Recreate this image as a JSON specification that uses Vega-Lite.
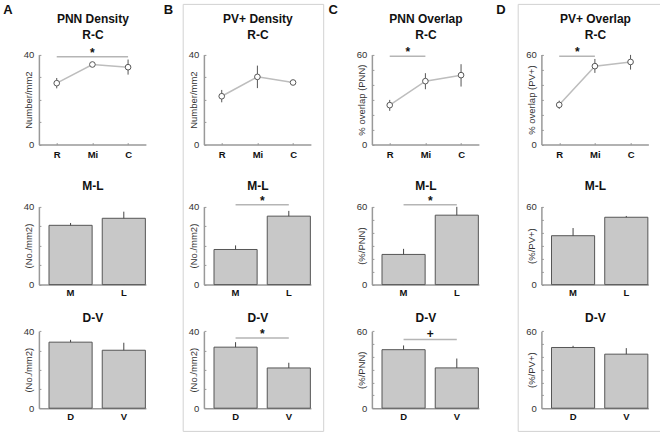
{
  "$schema": "https://vega.github.io/schema/vega-lite/v6.json",
  "background": "white",
  "padding": {"left": 2.7, "top": 2.9, "right": 0, "bottom": 0},
  "spacing": 4,
  "config": {
    "font": "Liberation Sans",
    "view": {"stroke": null},
    "title": {"font": "Liberation Sans", "fontSize": 13, "fontWeight": "bold", "color": "#111"},
    "axis": {"domainColor": "#999", "domainWidth": 1.5, "tickColor": "#999", "tickSize": -2, "tickWidth": 1, "labelFont": "Liberation Sans", "labelFontSize": 9.5, "labelColor": "#333", "titleFont": "Liberation Sans", "titleFontSize": 9.5, "titleFontWeight": "normal", "titleColor": "#333", "grid": false},
    "axisX": {"labelFontWeight": "bold", "labelColor": "#111", "labelAngle": 0},
    "axisY": {"labelPadding": 7, "titleX": -5}
  },
  "hconcat": [
    {
      "width": 140.5, "height": 427,
      "title": {"text": "A", "anchor": "start", "frame": "bounds", "dx": -14.4, "offset": -12.7},
      "resolve": {"scale": {"x": "independent", "y": "independent"}, "axis": {"x": "independent", "y": "independent"}},
      "layer": [
        {
          "data": {"values": [
            {"region": "R", "mean": 27.3, "lo": 25.0, "hi": 29.6},
            {"region": "Mi", "mean": 35.6, "lo": 34.8, "hi": 36.4},
            {"region": "C", "mean": 34.4, "lo": 31.1, "hi": 37.8}
          ]},
          "resolve": {"axis": {"x": "independent"}},
          "layer": [
            {"mark": {"type": "line", "color": "#bdbdbd", "strokeWidth": 1.5},
             "encoding": {
               "x": {"field": "region", "type": "nominal", "scale": {"type": "point", "padding": 0.5, "domain": ["R", "Mi", "C"], "range": [21.2, 128.2]}, "axis": {"orient": "bottom", "offset": -286.3, "labelPadding": 7.2, "title": null}},
               "y": {"field": "mean", "type": "quantitative", "scale": {"domain": [0, 40], "range": [140.7, 50.7]}, "axis": {"orient": "left", "offset": -21.2, "values": [0, 10, 20, 30, 40], "labelExpr": "datum.value == 0 || datum.value == 40 ? datum.label : ''", "title": "Number/mm2"}}}},
            {"mark": {"type": "rule", "color": "#555", "strokeWidth": 1},
             "encoding": {
               "x": {"field": "region", "type": "nominal", "axis": {"orient": "top", "offset": -50.7, "title": ["PNN Density", "R-C"], "titleY": -36.2, "titleBaseline": "middle", "titleLineHeight": 16.3, "titleFontSize": 12, "titleFontWeight": "bold", "titleColor": "#111", "domain": false, "ticks": false, "labels": false}},
               "y": {"field": "lo", "type": "quantitative"}, "y2": {"field": "hi"}}},
            {"mark": {"type": "point", "shape": "circle", "filled": true, "fill": "white", "stroke": "#555", "strokeWidth": 1, "size": 32, "opacity": 1},
             "encoding": {"x": {"field": "region", "type": "nominal", "axis": null}, "y": {"field": "mean", "type": "quantitative"}}},
            {"data": {"values": [{"from": "R", "to": "C", "at": "Mi", "y": 39, "sig": "*"}]},
             "layer": [
               {"mark": {"type": "rule", "color": "#b5b5b5", "strokeWidth": 1.5},
                "encoding": {"x": {"field": "from", "type": "nominal", "axis": null}, "x2": {"field": "to"}, "y": {"field": "y", "type": "quantitative"}}},
               {"mark": {"type": "text", "baseline": "alphabetic", "fontSize": 12, "fontWeight": "bold", "color": "#111"},
                "encoding": {"x": {"field": "at", "type": "nominal", "axis": null}, "y": {"field": "y", "type": "quantitative"}, "text": {"field": "sig"}}}
             ]}
          ]
        },
        {
          "data": {"values": [
            {"region": "M", "mean": 30.4, "hi": 31.6},
            {"region": "L", "mean": 34.0, "hi": 37.4}
          ]},
          "resolve": {"axis": {"x": "independent"}},
          "layer": [
            {"mark": {"type": "bar", "fill": "#c8c8c8", "stroke": "#555", "strokeWidth": 1},
             "encoding": {
               "x": {"field": "region", "type": "nominal", "scale": {"type": "band", "paddingInner": 0.19, "paddingOuter": 0.1, "align": 0.95, "domain": ["M", "L"], "range": [21.2, 128.2]}, "axis": {"orient": "bottom", "offset": -146.3, "labelPadding": 4.5, "title": null}},
               "y": {"field": "mean", "type": "quantitative", "scale": {"domain": [0, 40], "range": [280.7, 202.7]}, "axis": {"orient": "left", "offset": -21.2, "values": [0, 10, 20, 30, 40], "labelExpr": "datum.value == 0 || datum.value == 40 ? datum.label : ''", "title": "(No./mm2)"}}}},
            {"mark": {"type": "rule", "color": "#444", "strokeWidth": 1},
             "encoding": {
               "x": {"field": "region", "type": "nominal", "axis": {"orient": "top", "offset": -202.7, "title": "M-L", "titleY": -21, "titleBaseline": "middle", "titleFontSize": 12, "titleFontWeight": "bold", "titleColor": "#111", "domain": false, "ticks": false, "labels": false}},
               "y": {"field": "mean", "type": "quantitative"}, "y2": {"field": "hi"}}}
          ]
        },
        {
          "data": {"values": [
            {"region": "D", "mean": 34.3, "hi": 35.5},
            {"region": "V", "mean": 30.1, "hi": 34.0}
          ]},
          "resolve": {"axis": {"x": "independent"}},
          "layer": [
            {"mark": {"type": "bar", "fill": "#c8c8c8", "stroke": "#555", "strokeWidth": 1},
             "encoding": {
               "x": {"field": "region", "type": "nominal", "scale": {"type": "band", "paddingInner": 0.19, "paddingOuter": 0.1, "align": 0.95, "domain": ["D", "V"], "range": [21.2, 128.2]}, "axis": {"orient": "bottom", "offset": -22.7, "labelPadding": 5.2, "title": null}},
               "y": {"field": "mean", "type": "quantitative", "scale": {"domain": [0, 40], "range": [404.3, 327.3]}, "axis": {"orient": "left", "offset": -21.2, "values": [0, 10, 20, 30, 40], "labelExpr": "datum.value == 0 || datum.value == 40 ? datum.label : ''", "title": "(No./mm2)"}}}},
            {"mark": {"type": "rule", "color": "#444", "strokeWidth": 1},
             "encoding": {
               "x": {"field": "region", "type": "nominal", "axis": {"orient": "top", "offset": -327.3, "title": "D-V", "titleY": -14, "titleBaseline": "middle", "titleFontSize": 12, "titleFontWeight": "bold", "titleColor": "#111", "domain": false, "ticks": false, "labels": false}},
               "y": {"field": "mean", "type": "quantitative"}, "y2": {"field": "hi"}}}
          ]
        }
      ]
    },
    {
      "width": 140.5, "height": 427,
      "view": {"stroke": "#d2d2d2", "strokeWidth": 1},
      "title": {"text": "B", "anchor": "start", "frame": "bounds", "dx": -18.9, "offset": -12.7},
      "resolve": {"scale": {"x": "independent", "y": "independent"}, "axis": {"x": "independent", "y": "independent"}},
      "layer": [
        {
          "data": {"values": [
            {"region": "R", "mean": 21.5, "lo": 18.8, "hi": 24.3},
            {"region": "Mi", "mean": 30.1, "lo": 25.1, "hi": 35.1},
            {"region": "C", "mean": 27.6, "lo": 27.1, "hi": 28.1}
          ]},
          "resolve": {"axis": {"x": "independent"}},
          "layer": [
            {"mark": {"type": "line", "color": "#bdbdbd", "strokeWidth": 1.5},
             "encoding": {
               "x": {"field": "region", "type": "nominal", "scale": {"type": "point", "padding": 0.5, "domain": ["R", "Mi", "C"], "range": [21.2, 128.2]}, "axis": {"orient": "bottom", "offset": -286.3, "labelPadding": 7.2, "title": null}},
               "y": {"field": "mean", "type": "quantitative", "scale": {"domain": [0, 40], "range": [140.7, 50.7]}, "axis": {"orient": "left", "offset": -21.2, "values": [0, 10, 20, 30, 40], "labelExpr": "datum.value == 0 || datum.value == 40 ? datum.label : ''", "title": "Number/mm2"}}}},
            {"mark": {"type": "rule", "color": "#555", "strokeWidth": 1},
             "encoding": {
               "x": {"field": "region", "type": "nominal", "axis": {"orient": "top", "offset": -50.7, "title": ["PV+ Density", "R-C"], "titleY": -36.2, "titleBaseline": "middle", "titleLineHeight": 16.3, "titleFontSize": 12, "titleFontWeight": "bold", "titleColor": "#111", "domain": false, "ticks": false, "labels": false}},
               "y": {"field": "lo", "type": "quantitative"}, "y2": {"field": "hi"}}},
            {"mark": {"type": "point", "shape": "circle", "filled": true, "fill": "white", "stroke": "#555", "strokeWidth": 1, "size": 32, "opacity": 1},
             "encoding": {"x": {"field": "region", "type": "nominal", "axis": null}, "y": {"field": "mean", "type": "quantitative"}}}
          ]
        },
        {
          "data": {"values": [
            {"region": "M", "mean": 18.0, "hi": 20.1},
            {"region": "L", "mean": 35.1, "hi": 37.8}
          ]},
          "resolve": {"axis": {"x": "independent"}},
          "layer": [
            {"mark": {"type": "bar", "fill": "#c8c8c8", "stroke": "#555", "strokeWidth": 1},
             "encoding": {
               "x": {"field": "region", "type": "nominal", "scale": {"type": "band", "paddingInner": 0.19, "paddingOuter": 0.1, "align": 0.95, "domain": ["M", "L"], "range": [21.2, 128.2]}, "axis": {"orient": "bottom", "offset": -146.3, "labelPadding": 4.5, "title": null}},
               "y": {"field": "mean", "type": "quantitative", "scale": {"domain": [0, 40], "range": [280.7, 202.7]}, "axis": {"orient": "left", "offset": -21.2, "values": [0, 10, 20, 30, 40], "labelExpr": "datum.value == 0 || datum.value == 40 ? datum.label : ''", "title": "(No./mm2)"}}}},
            {"mark": {"type": "rule", "color": "#444", "strokeWidth": 1},
             "encoding": {
               "x": {"field": "region", "type": "nominal", "axis": {"orient": "top", "offset": -202.7, "title": "M-L", "titleY": -21, "titleBaseline": "middle", "titleFontSize": 12, "titleFontWeight": "bold", "titleColor": "#111", "domain": false, "ticks": false, "labels": false}},
               "y": {"field": "mean", "type": "quantitative"}, "y2": {"field": "hi"}}},
            {"data": {"values": [{"from": "M", "to": "L", "y": 41, "sig": "*"}]},
             "layer": [
               {"mark": {"type": "rule", "color": "#b5b5b5", "strokeWidth": 1.5},
                "encoding": {"x": {"field": "from", "type": "nominal", "axis": null}, "x2": {"field": "to"}, "y": {"field": "y", "type": "quantitative"}}},
               {"mark": {"type": "text", "baseline": "alphabetic", "fontSize": 12, "fontWeight": "bold", "color": "#111", "dx": 26.75},
                "encoding": {"x": {"field": "from", "type": "nominal", "axis": null}, "y": {"field": "y", "type": "quantitative"}, "text": {"field": "sig"}}}
             ]}
          ]
        },
        {
          "data": {"values": [
            {"region": "D", "mean": 31.7, "hi": 34.3},
            {"region": "V", "mean": 20.9, "hi": 23.6}
          ]},
          "resolve": {"axis": {"x": "independent"}},
          "layer": [
            {"mark": {"type": "bar", "fill": "#c8c8c8", "stroke": "#555", "strokeWidth": 1},
             "encoding": {
               "x": {"field": "region", "type": "nominal", "scale": {"type": "band", "paddingInner": 0.19, "paddingOuter": 0.1, "align": 0.95, "domain": ["D", "V"], "range": [21.2, 128.2]}, "axis": {"orient": "bottom", "offset": -22.7, "labelPadding": 5.2, "title": null}},
               "y": {"field": "mean", "type": "quantitative", "scale": {"domain": [0, 40], "range": [404.3, 327.3]}, "axis": {"orient": "left", "offset": -21.2, "values": [0, 10, 20, 30, 40], "labelExpr": "datum.value == 0 || datum.value == 40 ? datum.label : ''", "title": "(No./mm2)"}}}},
            {"mark": {"type": "rule", "color": "#444", "strokeWidth": 1},
             "encoding": {
               "x": {"field": "region", "type": "nominal", "axis": {"orient": "top", "offset": -327.3, "title": "D-V", "titleY": -14, "titleBaseline": "middle", "titleFontSize": 12, "titleFontWeight": "bold", "titleColor": "#111", "domain": false, "ticks": false, "labels": false}},
               "y": {"field": "mean", "type": "quantitative"}, "y2": {"field": "hi"}}},
            {"data": {"values": [{"from": "D", "to": "V", "y": 36.5, "sig": "*"}]},
             "layer": [
               {"mark": {"type": "rule", "color": "#b5b5b5", "strokeWidth": 1.5},
                "encoding": {"x": {"field": "from", "type": "nominal", "axis": null}, "x2": {"field": "to"}, "y": {"field": "y", "type": "quantitative"}}},
               {"mark": {"type": "text", "baseline": "alphabetic", "fontSize": 12, "fontWeight": "bold", "color": "#111", "dx": 26.75},
                "encoding": {"x": {"field": "from", "type": "nominal", "axis": null}, "y": {"field": "y", "type": "quantitative"}, "text": {"field": "sig"}}}
             ]}
          ]
        }
      ]
    },
    {
      "width": 140.5, "height": 427,
      "title": {"text": "C", "anchor": "start", "frame": "bounds", "dx": -22.1, "offset": -12.7},
      "resolve": {"scale": {"x": "independent", "y": "independent"}, "axis": {"x": "independent", "y": "independent"}},
      "layer": [
        {
          "data": {"values": [
            {"region": "R", "mean": 26.3, "lo": 22.5, "hi": 29.8},
            {"region": "Mi", "mean": 42.3, "lo": 36.9, "hi": 47.6},
            {"region": "C", "mean": 46.3, "lo": 38.7, "hi": 53.6}
          ]},
          "resolve": {"axis": {"x": "independent"}},
          "layer": [
            {"mark": {"type": "line", "color": "#bdbdbd", "strokeWidth": 1.5},
             "encoding": {
               "x": {"field": "region", "type": "nominal", "scale": {"type": "point", "padding": 0.5, "domain": ["R", "Mi", "C"], "range": [21.2, 128.2]}, "axis": {"orient": "bottom", "offset": -286.3, "labelPadding": 7.2, "title": null}},
               "y": {"field": "mean", "type": "quantitative", "scale": {"domain": [0, 60], "range": [140.7, 50.7]}, "axis": {"orient": "left", "offset": -21.2, "values": [0, 10, 20, 30, 40, 50, 60], "labelExpr": "datum.value == 0 || datum.value == 60 ? datum.label : ''", "title": "% overlap (PNN)"}}}},
            {"mark": {"type": "rule", "color": "#555", "strokeWidth": 1},
             "encoding": {
               "x": {"field": "region", "type": "nominal", "axis": {"orient": "top", "offset": -50.7, "title": ["PNN Overlap", "R-C"], "titleY": -36.2, "titleBaseline": "middle", "titleLineHeight": 16.3, "titleFontSize": 12, "titleFontWeight": "bold", "titleColor": "#111", "domain": false, "ticks": false, "labels": false}},
               "y": {"field": "lo", "type": "quantitative"}, "y2": {"field": "hi"}}},
            {"mark": {"type": "point", "shape": "circle", "filled": true, "fill": "white", "stroke": "#555", "strokeWidth": 1, "size": 32, "opacity": 1},
             "encoding": {"x": {"field": "region", "type": "nominal", "axis": null}, "y": {"field": "mean", "type": "quantitative"}}},
            {"data": {"values": [{"from": "R", "to": "Mi", "y": 58.9, "sig": "*"}]},
             "layer": [
               {"mark": {"type": "rule", "color": "#b5b5b5", "strokeWidth": 1.5},
                "encoding": {"x": {"field": "from", "type": "nominal", "axis": null}, "x2": {"field": "to"}, "y": {"field": "y", "type": "quantitative"}}},
               {"mark": {"type": "text", "baseline": "alphabetic", "fontSize": 12, "fontWeight": "bold", "color": "#111", "dx": 18},
                "encoding": {"x": {"field": "from", "type": "nominal", "axis": null}, "y": {"field": "y", "type": "quantitative"}, "text": {"field": "sig"}}}
             ]}
          ]
        },
        {
          "data": {"values": [
            {"region": "M", "mean": 23.2, "hi": 27.5},
            {"region": "L", "mean": 53.4, "hi": 59.8}
          ]},
          "resolve": {"axis": {"x": "independent"}},
          "layer": [
            {"mark": {"type": "bar", "fill": "#c8c8c8", "stroke": "#555", "strokeWidth": 1},
             "encoding": {
               "x": {"field": "region", "type": "nominal", "scale": {"type": "band", "paddingInner": 0.19, "paddingOuter": 0.1, "align": 0.95, "domain": ["M", "L"], "range": [21.2, 128.2]}, "axis": {"orient": "bottom", "offset": -146.3, "labelPadding": 4.5, "title": null}},
               "y": {"field": "mean", "type": "quantitative", "scale": {"domain": [0, 60], "range": [280.7, 202.7]}, "axis": {"orient": "left", "offset": -21.2, "values": [0, 10, 20, 30, 40, 50, 60], "labelExpr": "datum.value == 0 || datum.value == 60 ? datum.label : ''", "title": "(%/PNN)"}}}},
            {"mark": {"type": "rule", "color": "#444", "strokeWidth": 1},
             "encoding": {
               "x": {"field": "region", "type": "nominal", "axis": {"orient": "top", "offset": -202.7, "title": "M-L", "titleY": -21, "titleBaseline": "middle", "titleFontSize": 12, "titleFontWeight": "bold", "titleColor": "#111", "domain": false, "ticks": false, "labels": false}},
               "y": {"field": "mean", "type": "quantitative"}, "y2": {"field": "hi"}}},
            {"data": {"values": [{"from": "M", "to": "L", "y": 61.5, "sig": "*"}]},
             "layer": [
               {"mark": {"type": "rule", "color": "#b5b5b5", "strokeWidth": 1.5},
                "encoding": {"x": {"field": "from", "type": "nominal", "axis": null}, "x2": {"field": "to"}, "y": {"field": "y", "type": "quantitative"}}},
               {"mark": {"type": "text", "baseline": "alphabetic", "fontSize": 12, "fontWeight": "bold", "color": "#111", "dx": 26.75},
                "encoding": {"x": {"field": "from", "type": "nominal", "axis": null}, "y": {"field": "y", "type": "quantitative"}, "text": {"field": "sig"}}}
             ]}
          ]
        },
        {
          "data": {"values": [
            {"region": "D", "mean": 45.6, "hi": 48.9},
            {"region": "V", "mean": 31.4, "hi": 38.7}
          ]},
          "resolve": {"axis": {"x": "independent"}},
          "layer": [
            {"mark": {"type": "bar", "fill": "#c8c8c8", "stroke": "#555", "strokeWidth": 1},
             "encoding": {
               "x": {"field": "region", "type": "nominal", "scale": {"type": "band", "paddingInner": 0.19, "paddingOuter": 0.1, "align": 0.95, "domain": ["D", "V"], "range": [21.2, 128.2]}, "axis": {"orient": "bottom", "offset": -22.7, "labelPadding": 5.2, "title": null}},
               "y": {"field": "mean", "type": "quantitative", "scale": {"domain": [0, 60], "range": [404.3, 327.3]}, "axis": {"orient": "left", "offset": -21.2, "values": [0, 10, 20, 30, 40, 50, 60], "labelExpr": "datum.value == 0 || datum.value == 60 ? datum.label : ''", "title": "(%/PNN)"}}}},
            {"mark": {"type": "rule", "color": "#444", "strokeWidth": 1},
             "encoding": {
               "x": {"field": "region", "type": "nominal", "axis": {"orient": "top", "offset": -327.3, "title": "D-V", "titleY": -14, "titleBaseline": "middle", "titleFontSize": 12, "titleFontWeight": "bold", "titleColor": "#111", "domain": false, "ticks": false, "labels": false}},
               "y": {"field": "mean", "type": "quantitative"}, "y2": {"field": "hi"}}},
            {"data": {"values": [{"from": "D", "to": "V", "y": 53.5, "sig": "+"}]},
             "layer": [
               {"mark": {"type": "rule", "color": "#b5b5b5", "strokeWidth": 1.5},
                "encoding": {"x": {"field": "from", "type": "nominal", "axis": null}, "x2": {"field": "to"}, "y": {"field": "y", "type": "quantitative"}}},
               {"mark": {"type": "text", "baseline": "alphabetic", "fontSize": 12, "fontWeight": "bold", "color": "#111", "dx": 26.75, "dy": -2},
                "encoding": {"x": {"field": "from", "type": "nominal", "axis": null}, "y": {"field": "y", "type": "quantitative"}, "text": {"field": "sig"}}}
             ]}
          ]
        }
      ]
    },
    {
      "width": 143, "height": 427,
      "view": {"stroke": "#d2d2d2", "strokeWidth": 1},
      "title": {"text": "D", "anchor": "start", "frame": "bounds", "dx": -21.4, "offset": -12.7},
      "resolve": {"scale": {"x": "independent", "y": "independent"}, "axis": {"x": "independent", "y": "independent"}},
      "layer": [
        {
          "data": {"values": [
            {"region": "R", "mean": 26.5, "lo": 23.8, "hi": 29.3},
            {"region": "Mi", "mean": 52.3, "lo": 47.8, "hi": 57.1},
            {"region": "C", "mean": 55.1, "lo": 50.0, "hi": 59.8}
          ]},
          "resolve": {"axis": {"x": "independent"}},
          "layer": [
            {"mark": {"type": "line", "color": "#bdbdbd", "strokeWidth": 1.5},
             "encoding": {
               "x": {"field": "region", "type": "nominal", "scale": {"type": "point", "padding": 0.5, "domain": ["R", "Mi", "C"], "range": [23.7, 130.7]}, "axis": {"orient": "bottom", "offset": -286.3, "labelPadding": 7.2, "title": null}},
               "y": {"field": "mean", "type": "quantitative", "scale": {"domain": [0, 60], "range": [140.7, 50.7]}, "axis": {"orient": "left", "offset": -23.7, "values": [0, 10, 20, 30, 40, 50, 60], "labelExpr": "datum.value == 0 || datum.value == 60 ? datum.label : ''", "title": "% overlap (PV+)"}}}},
            {"mark": {"type": "rule", "color": "#555", "strokeWidth": 1},
             "encoding": {
               "x": {"field": "region", "type": "nominal", "axis": {"orient": "top", "offset": -50.7, "title": ["PV+ Overlap", "R-C"], "titleY": -36.2, "titleBaseline": "middle", "titleLineHeight": 16.3, "titleFontSize": 12, "titleFontWeight": "bold", "titleColor": "#111", "domain": false, "ticks": false, "labels": false}},
               "y": {"field": "lo", "type": "quantitative"}, "y2": {"field": "hi"}}},
            {"mark": {"type": "point", "shape": "circle", "filled": true, "fill": "white", "stroke": "#555", "strokeWidth": 1, "size": 32, "opacity": 1},
             "encoding": {"x": {"field": "region", "type": "nominal", "axis": null}, "y": {"field": "mean", "type": "quantitative"}}},
            {"data": {"values": [{"from": "R", "to": "Mi", "y": 58.9, "sig": "*"}]},
             "layer": [
               {"mark": {"type": "rule", "color": "#b5b5b5", "strokeWidth": 1.5},
                "encoding": {"x": {"field": "from", "type": "nominal", "axis": null}, "x2": {"field": "to"}, "y": {"field": "y", "type": "quantitative"}}},
               {"mark": {"type": "text", "baseline": "alphabetic", "fontSize": 12, "fontWeight": "bold", "color": "#111", "dx": 18},
                "encoding": {"x": {"field": "from", "type": "nominal", "axis": null}, "y": {"field": "y", "type": "quantitative"}, "text": {"field": "sig"}}}
             ]}
          ]
        },
        {
          "data": {"values": [
            {"region": "M", "mean": 37.6, "hi": 43.5},
            {"region": "L", "mean": 51.8, "hi": 52.8}
          ]},
          "resolve": {"axis": {"x": "independent"}},
          "layer": [
            {"mark": {"type": "bar", "fill": "#c8c8c8", "stroke": "#555", "strokeWidth": 1},
             "encoding": {
               "x": {"field": "region", "type": "nominal", "scale": {"type": "band", "paddingInner": 0.19, "paddingOuter": 0.1, "align": 0.95, "domain": ["M", "L"], "range": [23.7, 130.7]}, "axis": {"orient": "bottom", "offset": -146.3, "labelPadding": 4.5, "title": null}},
               "y": {"field": "mean", "type": "quantitative", "scale": {"domain": [0, 60], "range": [280.7, 202.7]}, "axis": {"orient": "left", "offset": -23.7, "values": [0, 10, 20, 30, 40, 50, 60], "labelExpr": "datum.value == 0 || datum.value == 60 ? datum.label : ''", "title": "(%/PV+)"}}}},
            {"mark": {"type": "rule", "color": "#444", "strokeWidth": 1},
             "encoding": {
               "x": {"field": "region", "type": "nominal", "axis": {"orient": "top", "offset": -202.7, "title": "M-L", "titleY": -21, "titleBaseline": "middle", "titleFontSize": 12, "titleFontWeight": "bold", "titleColor": "#111", "domain": false, "ticks": false, "labels": false}},
               "y": {"field": "mean", "type": "quantitative"}, "y2": {"field": "hi"}}}
          ]
        },
        {
          "data": {"values": [
            {"region": "D", "mean": 47.3, "hi": 48.6},
            {"region": "V", "mean": 42.1, "hi": 46.8}
          ]},
          "resolve": {"axis": {"x": "independent"}},
          "layer": [
            {"mark": {"type": "bar", "fill": "#c8c8c8", "stroke": "#555", "strokeWidth": 1},
             "encoding": {
               "x": {"field": "region", "type": "nominal", "scale": {"type": "band", "paddingInner": 0.19, "paddingOuter": 0.1, "align": 0.95, "domain": ["D", "V"], "range": [23.7, 130.7]}, "axis": {"orient": "bottom", "offset": -22.7, "labelPadding": 5.2, "title": null}},
               "y": {"field": "mean", "type": "quantitative", "scale": {"domain": [0, 60], "range": [404.3, 327.3]}, "axis": {"orient": "left", "offset": -23.7, "values": [0, 10, 20, 30, 40, 50, 60], "labelExpr": "datum.value == 0 || datum.value == 60 ? datum.label : ''", "title": "(%/PV+)"}}}},
            {"mark": {"type": "rule", "color": "#444", "strokeWidth": 1},
             "encoding": {
               "x": {"field": "region", "type": "nominal", "axis": {"orient": "top", "offset": -327.3, "title": "D-V", "titleY": -14, "titleBaseline": "middle", "titleFontSize": 12, "titleFontWeight": "bold", "titleColor": "#111", "domain": false, "ticks": false, "labels": false}},
               "y": {"field": "mean", "type": "quantitative"}, "y2": {"field": "hi"}}}
          ]
        }
      ]
    }
  ]
}
